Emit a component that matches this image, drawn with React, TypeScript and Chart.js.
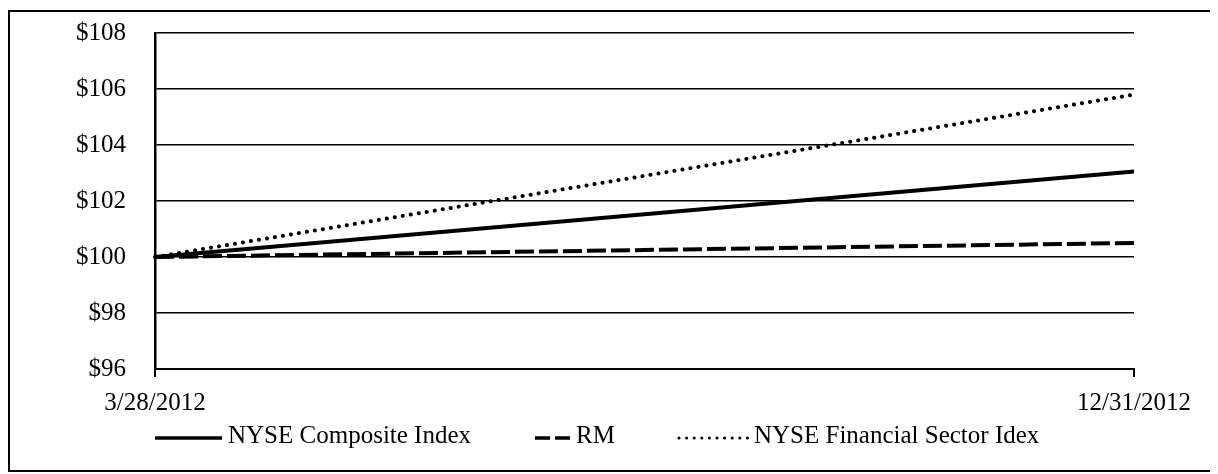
import React, { useEffect, useRef } from "react";
import { Chart, registerables } from "chart.js";

Chart.register(...registerables);

const categories = ["3/28/2012", "12/31/2012"];
const composite = [100, 103.05];
const rm = [100, 100.5];
const financial = [100, 105.8];
const seriesNames = ["NYSE Composite Index", "RM", "NYSE Financial Sector Idex"];
const yMin = 96;
const yMax = 108;
const yStep = 2;

const FONT = "'Liberation Serif', 'Times New Roman', serif";
const FSIZE = 25;

const legendPlugin = {
  id: "customLegend",
  afterDraw(chart: any) {
    const ctx = chart.ctx;
    const lens = [67, 35, 69];
    const y = 424;
    let x = chart.chartArea.left;
    ctx.save();
    ctx.font = `${FSIZE}px ${FONT}`;
    ctx.textBaseline = "middle";
    ctx.fillStyle = "#000";
    chart.data.datasets.forEach((ds: any, i: number) => {
      ctx.save();
      ctx.strokeStyle = "#000";
      ctx.lineWidth = i === 2 ? 3 : 3.5;
      ctx.lineCap = ds.borderCapStyle || "butt";
      ctx.setLineDash(i === 1 ? [15, 5] : i === 2 ? [0.1, 7.5] : []);
      ctx.beginPath();
      ctx.moveTo(x, y + 2);
      ctx.lineTo(x + lens[i], y + 2);
      ctx.stroke();
      ctx.restore();
      const tx = x + lens[i] + 6;
      ctx.fillText(ds.label, tx, y);
      x = tx + ctx.measureText(ds.label).width + 64;
    });
    ctx.restore();
  },
};

export default function App() {
  const ref = useRef<HTMLCanvasElement>(null);
  useEffect(() => {
    document.body.style.overflow = "hidden";
    const chart = new Chart(ref.current!, {
      type: "line",
      data: {
        labels: categories,
        datasets: [
          {
            label: seriesNames[0],
            data: composite,
            borderColor: "#000",
            borderWidth: 4,
            pointRadius: 0,
            tension: 0,
          },
          {
            label: seriesNames[1],
            data: rm,
            borderColor: "#000",
            borderWidth: 4,
            borderDash: [19, 5],
            pointRadius: 0,
            tension: 0,
          },
          {
            label: seriesNames[2],
            data: financial,
            borderColor: "#000",
            borderWidth: 4,
            borderDash: [0.1, 8],
            borderCapStyle: "round",
            pointRadius: 0,
            tension: 0,
          },
        ],
      },
      options: {
        animation: false,
        responsive: false,
        maintainAspectRatio: false,
        layout: { padding: { top: 21, right: 84, left: 0, bottom: 0 } },
        plugins: {
          legend: { display: false },
          tooltip: { enabled: false },
        },
        scales: {
          x: {
            type: "category",
            offset: false,
            grid: {
              drawOnChartArea: false,
              drawTicks: true,
              tickLength: 8,
              color: "#000",
              lineWidth: 2,
            },
            border: { display: true, color: "#000", width: 2 },
            ticks: {
              color: "#000",
              font: { family: FONT, size: FSIZE },
              padding: 11,
              maxRotation: 0,
              autoSkip: false,
            },
            afterFit(scale: any) {
              scale.height = 101;
            },
          },
          y: {
            min: yMin,
            max: yMax,
            grid: {
              color: "#000",
              lineWidth: 1.5,
              drawTicks: true,
              tickLength: 29,
              tickColor: "rgba(0,0,0,0)",
            },
            border: { display: true, color: "#000", width: 2.5 },
            ticks: {
              stepSize: yStep,
              color: "#000",
              font: { family: FONT, size: FSIZE },
              padding: 0,
              callback: (v: any) => "$" + v,
            },
            afterFit(scale: any) {
              scale.width = 145;
            },
          },
        },
      },
      plugins: [legendPlugin],
    });
    return () => chart.destroy();
  }, []);
  return (
    <div
      style={{
        marginTop: 2,
        width: 1212,
        height: 462,
        border: "2px solid #000",
        boxSizing: "border-box",
        background: "#fff",
      }}
    >
      <canvas ref={ref} width={1208} height={458} style={{ display: "block" }} />
    </div>
  );
}
